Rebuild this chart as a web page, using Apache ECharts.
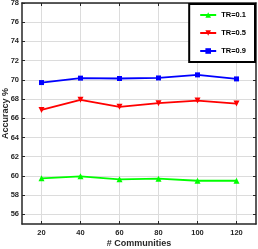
<!DOCTYPE html>
<html><head><meta charset="utf-8">
<script src="https://cdn.jsdelivr.net/npm/echarts@6/dist/echarts.min.js"></script>
<style>html,body{margin:0;padding:0;background:#fff}#c{width:258px;height:249px}</style>
</head><body><div id="c"></div>
<script>
const communities = [20, 40, 60, 80, 100, 120];
const tr01 = [59.75, 59.96, 59.65, 59.72, 59.5, 59.5];
const tr05 = [66.87, 67.92, 67.2, 67.57, 67.84, 67.53];
const tr09 = [69.72, 70.18, 70.14, 70.2, 70.52, 70.1];
const yTicks = [56, 58, 60, 62, 64, 66, 68, 70, 72, 74, 76, 78];
const xTicks = [20, 40, 60, 80, 100, 120];
const seriesNames = ['TR=0.1', 'TR=0.5', 'TR=0.9'];

const font = 'Liberation Sans, Arial, sans-serif';
const chart = echarts.init(document.getElementById('c'));
const pair = (arr) => communities.map((c, i) => [c, arr[i]]);
const axisLine = {show: true, lineStyle: {color: '#262626', width: 1.5}};
const grid = {left: 22, right: 2, top: 3, bottom: 25, containLabel: false, outerBoundsMode: 'none'};
function mkSeries(name, data, color, symbol, size, rotate) {
  return {name, type: 'line', data: pair(data), symbol, symbolSize: size, symbolRotate: rotate,
    lineStyle: {color, width: 1.8}, itemStyle: {color}, color, z: 3};
}
chart.setOption({
  animation: false,
  grid,
  legend: {
    right: 3, top: 4, orient: 'vertical', itemGap: 10, padding: [7, 9, 7, 10],
    borderColor: '#000', borderWidth: 2, backgroundColor: '#fff',
    itemWidth: 16, itemHeight: 7,
    textStyle: {fontFamily: font, fontSize: 7.5, fontWeight: 'bold', color: '#000'},
    data: seriesNames
  },
  xAxis: [{
    type: 'value', min: 10, max: 130,
    name: '# Communities', nameLocation: 'middle', nameGap: 15, nameMoveOverlap: false,
    nameTextStyle: {fontFamily: font, fontSize: 9, fontWeight: 'bold', color: '#262626'},
    axisLine, axisTick: {show: true, inside: true, length: 3, customValues: xTicks, lineStyle: {color: '#262626'}},
    axisLabel: {customValues: xTicks, fontFamily: font, fontSize: 7.5, fontWeight: 'bold', color: '#262626', margin: 5},
    splitLine: {show: true, lineStyle: {color: '#dcdcdc', width: 1}}
  }, {
    type: 'value', min: 10, max: 130, position: 'top',
    axisLine, axisTick: {show: true, inside: true, length: 3, customValues: xTicks, lineStyle: {color: '#262626'}},
    axisLabel: {show: false, customValues: xTicks}, splitLine: {show: false}
  }],
  yAxis: [{
    type: 'value', min: 55, max: 78,
    name: 'Accuracy %', nameLocation: 'middle', nameGap: 12, nameRotate: 90, nameMoveOverlap: false,
    nameTextStyle: {fontFamily: font, fontSize: 9, fontWeight: 'bold', color: '#262626'},
    axisLine, axisTick: {show: true, inside: true, length: 3, customValues: yTicks, lineStyle: {color: '#262626'}},
    axisLabel: {customValues: yTicks, fontFamily: font, fontSize: 7.5, fontWeight: 'bold', color: '#262626', margin: 3},
    splitLine: {show: true, lineStyle: {color: '#dcdcdc', width: 1}}
  }, {
    type: 'value', min: 55, max: 78, position: 'right',
    axisLine, axisTick: {show: true, inside: true, length: 3, customValues: yTicks, lineStyle: {color: '#262626'}},
    axisLabel: {show: false, customValues: yTicks}, splitLine: {show: false}
  }],
  series: [
    mkSeries(seriesNames[0], tr01, '#00ff00', 'triangle', 6, 0),
    mkSeries(seriesNames[1], tr05, '#ff0000', 'triangle', 6, 180),
    mkSeries(seriesNames[2], tr09, '#0000ff', 'rect', 5, 0)
  ]
});
</script></body></html>
